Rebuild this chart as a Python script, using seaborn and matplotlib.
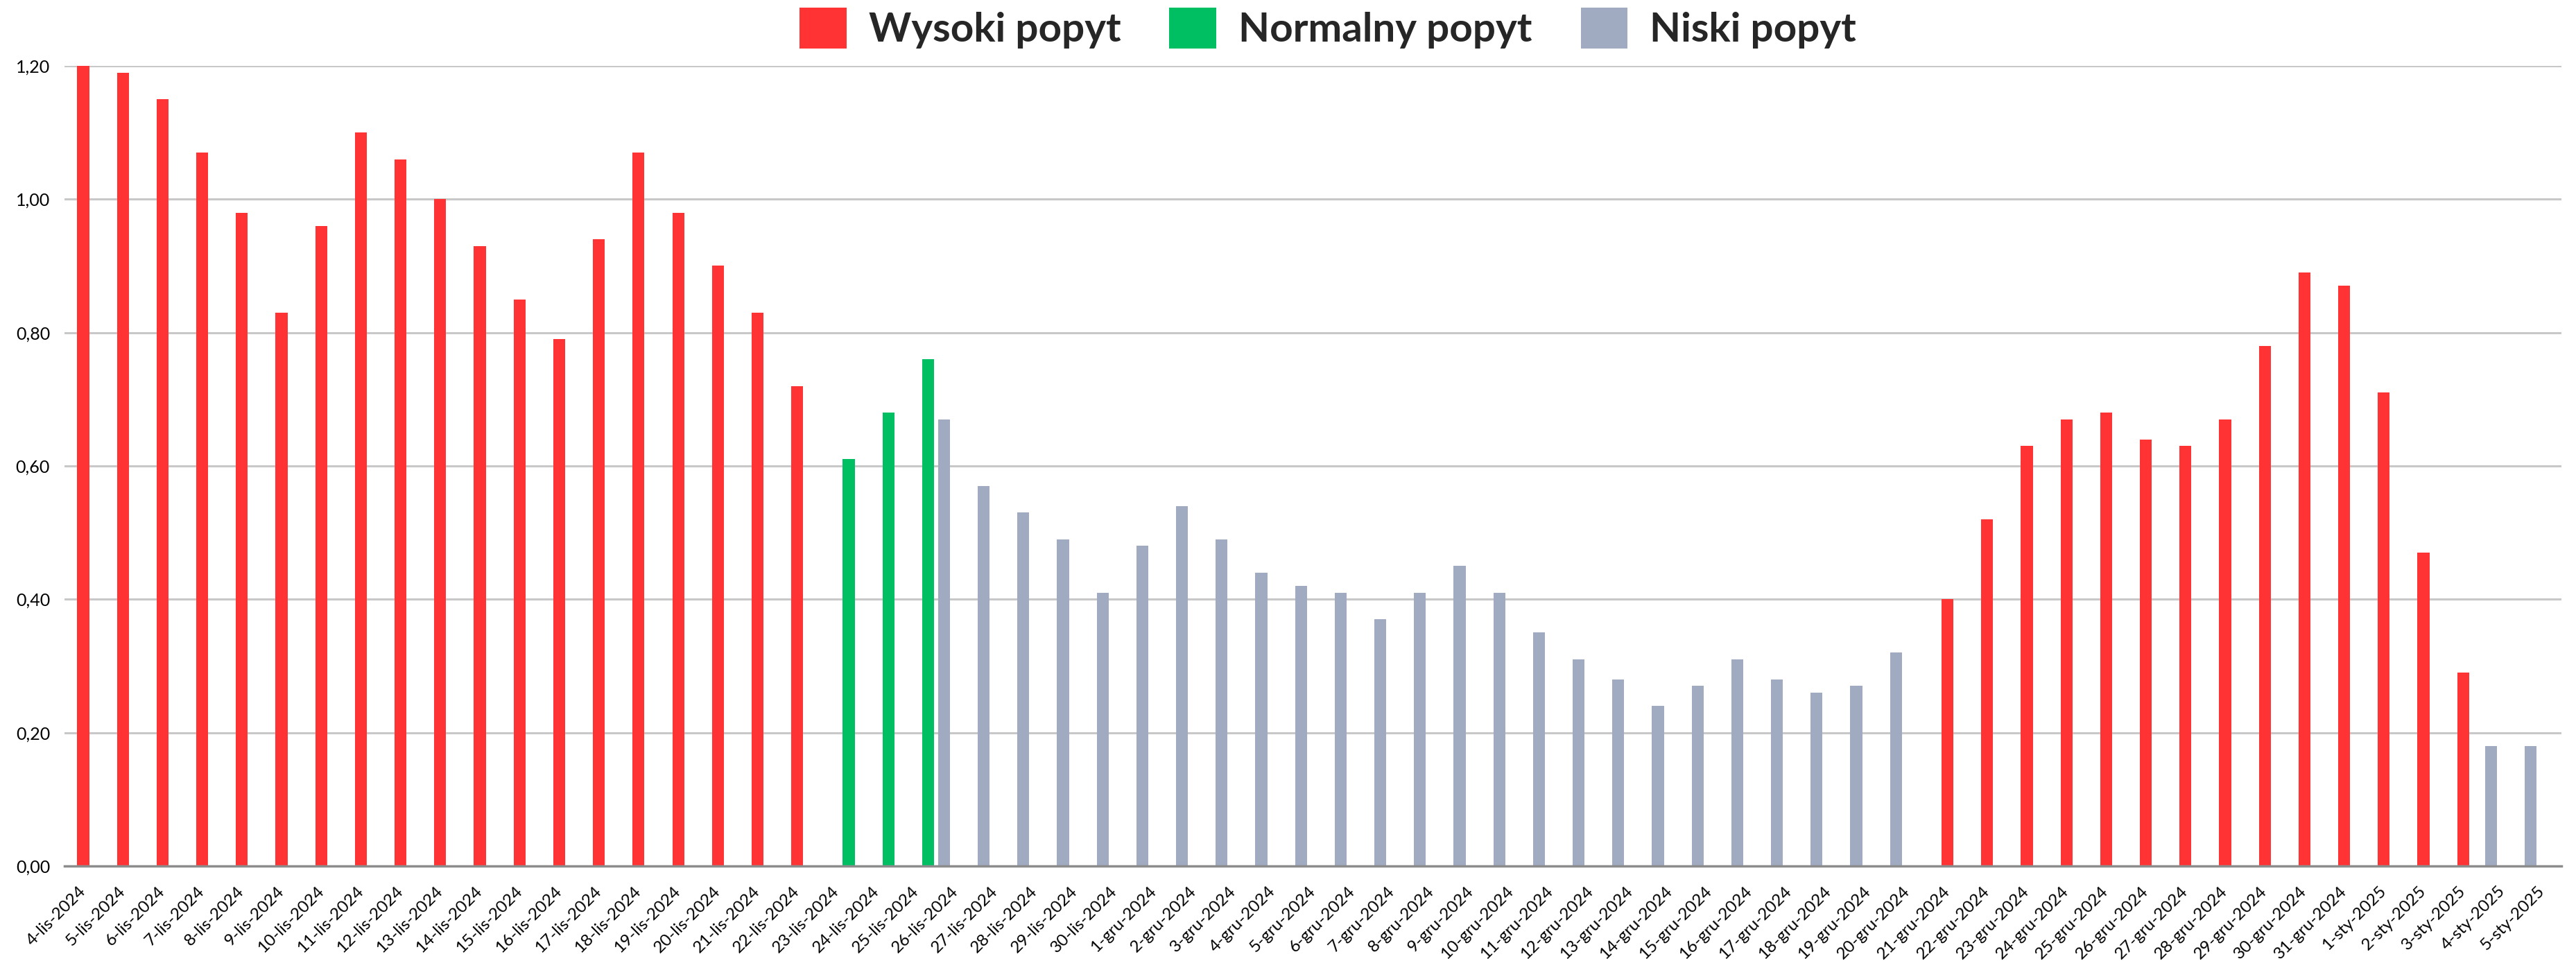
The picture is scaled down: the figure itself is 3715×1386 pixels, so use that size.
import seaborn as sns
import matplotlib.pyplot as plt
import pandas as pd
from matplotlib.patches import Patch
from matplotlib.ticker import FuncFormatter

# etykiety dni (os X)
dni = ([f"{d}-lis-2024" for d in range(4, 31)]
       + [f"{d}-gru-2024" for d in range(1, 32)]
       + [f"{d}-sty-2025" for d in range(1, 6)])

# wartosci popytu
wartosci = [1.20, 1.19, 1.15, 1.07, 0.98, 0.83, 0.96, 1.10, 1.06, 1.00,
            0.93, 0.85, 0.79, 0.94, 1.07, 0.98, 0.90, 0.83, 0.72,
            0.61, 0.68, 0.76,
            0.67, 0.57, 0.53, 0.49, 0.41,
            0.48, 0.54, 0.49, 0.44, 0.42, 0.41, 0.37, 0.41, 0.45, 0.41,
            0.35, 0.31, 0.28, 0.24, 0.27, 0.31, 0.28, 0.26, 0.27, 0.32,
            0.40, 0.52, 0.63, 0.67, 0.68, 0.64, 0.63, 0.67, 0.78, 0.89, 0.87,
            0.71, 0.47, 0.29,
            0.18, 0.18]

kategorie = (["Wysoki popyt"] * 19 + ["Normalny popyt"] * 3 + ["Niski popyt"] * 25
             + ["Wysoki popyt"] * 14 + ["Niski popyt"] * 2)

legenda = ["Wysoki popyt", "Normalny popyt", "Niski popyt"]
kolejnosc = ["Niski popyt", "Wysoki popyt", "Normalny popyt"]  # kolejnosc serii w grupie
kolori = {"Wysoki popyt": "#FF3333", "Normalny popyt": "#00BF63", "Niski popyt": "#A0AAC0"}

df = pd.DataFrame({"dzien": dni, "wartosc": wartosci, "popyt": kategorie})

sns.set_theme(style="white")
plt.rcParams['font.family'] = ['Lato', 'DejaVu Sans']

fig = plt.figure(figsize=(37.15, 13.86), dpi=100)
ax = fig.add_axes([0.025, 0.0988, 0.9693, 0.8327])

sns.barplot(data=df, x="dzien", y="wartosc", hue="popyt", hue_order=kolejnosc,
            palette=kolori, dodge=True, width=0.9, saturation=1, errorbar=None,
            legend=False, linewidth=0, ax=ax)

ax.set_ylim(0, 1.2)
ax.set_xlim(-0.475, len(dni) - 0.525)
ax.set_yticks([0, 0.2, 0.4, 0.6, 0.8, 1.0, 1.2])
ax.yaxis.set_major_formatter(FuncFormatter(lambda v, p: f"{v:.2f}".replace(".", ",")))
ax.set_axisbelow(True)
ax.yaxis.grid(True, color="#C8C8C8", linewidth=2.2)
for s in ["top", "left", "right"]:
    ax.spines[s].set_visible(False)
ax.spines["bottom"].set_color("#8C8C8C")
ax.spines["bottom"].set_linewidth(2.5)
ax.set_xlabel("")
ax.set_ylabel("")

ax.set_xticks(range(len(dni)))
ax.set_xticklabels(dni, rotation=45, ha="right", rotation_mode="anchor", va="center")
ax.tick_params(axis="x", length=0, pad=23.5, labelsize=17.5, labelcolor="black")
ax.tick_params(axis="y", length=0, pad=15, labelsize=18, labelcolor="black")

uchwyty = [Patch(facecolor=kolori[k], edgecolor="none", label=k) for k in legenda]
leg = fig.legend(handles=uchwyty, loc="upper center",
                 bbox_to_anchor=(1915 / 3715, 1.0 + 6 / 1386),
                 ncol=3, frameon=True, fancybox=False, facecolor="white", edgecolor="none",
                 framealpha=1, prop={"family": "Lato", "weight": "bold", "size": 42},
                 handlelength=1.16, handleheight=1.16, handletextpad=0.55,
                 columnspacing=1.2, borderpad=0.3, borderaxespad=0)

fig.savefig("out.png", dpi=100, facecolor="white")
